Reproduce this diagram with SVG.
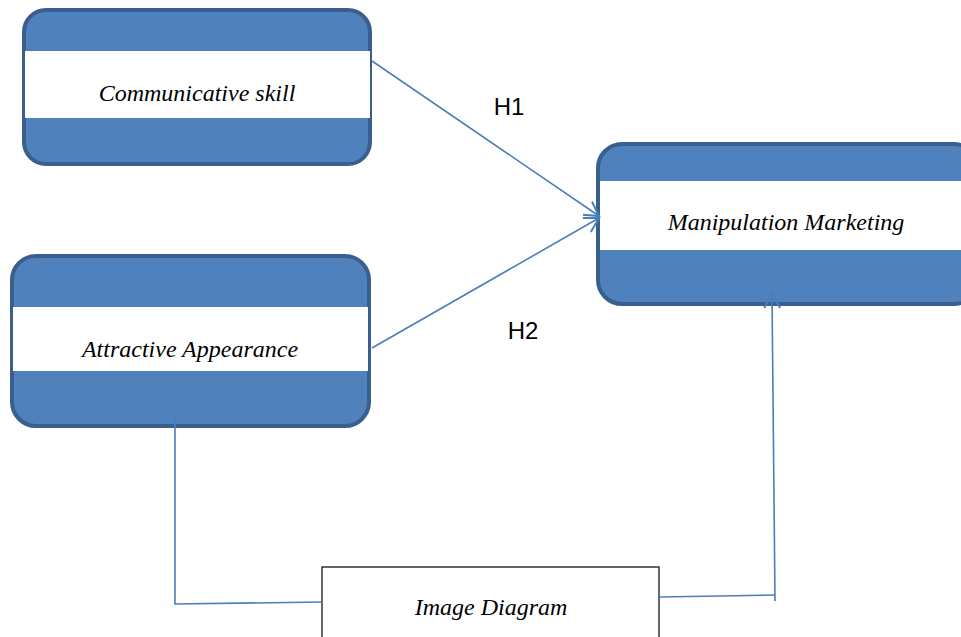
<svg xmlns="http://www.w3.org/2000/svg" width="961" height="637" viewBox="0 0 961 637">
  <style>
    .box { fill: #4F81BD; stroke: #3A5F8E; stroke-width: 4; }
    .band { fill: #FFFFFF; }
    .label { font-family: "Liberation Serif", "Times New Roman", serif; font-style: italic; font-size: 24px; fill: #000; text-anchor: middle; }
    .hyp { font-family: "Liberation Sans", Arial, sans-serif; font-size: 24px; fill: #000; text-anchor: middle; }
    .conn { stroke: #4A7EBB; stroke-width: 1.6; fill: none; }
    .plain { fill: #FFFFFF; stroke: #000; stroke-width: 1.2; }
  </style>
  <defs>
    <marker id="vhead" markerWidth="20" markerHeight="20" refX="17" refY="10" orient="auto" markerUnits="userSpaceOnUse">
      <path d="M3,2 L17,10 L3,18" fill="none" stroke="#4A7EBB" stroke-width="2"/>
    </marker>
  </defs>

  <rect width="961" height="637" fill="#FFFFFF"/>

  <g id="communicative-skill">
    <rect class="box" x="24" y="10" width="346" height="154" rx="22" ry="22"/>
    <rect class="band" x="25" y="51" width="345" height="67"/>
    <text class="label" x="197" y="101">Communicative skill</text>
  </g>

  <g id="attractive-appearance">
    <rect class="box" x="12" y="256" width="357" height="170" rx="24" ry="24"/>
    <rect class="band" x="13" y="307" width="355" height="64"/>
    <text class="label" x="190" y="357">Attractive Appearance</text>
  </g>

  <g id="manipulation-marketing">
    <rect class="box" x="598" y="144" width="380" height="160" rx="24" ry="24"/>
    <rect class="band" x="600" y="181" width="361" height="69"/>
    <text class="label" x="786" y="230">Manipulation Marketing</text>
  </g>

  <g id="image-diagram">
    <rect class="plain" x="322" y="567" width="337" height="80"/>
    <text class="label" x="491" y="615">Image Diagram</text>
  </g>

  <g id="connectors">
    <line class="conn" x1="372" y1="61" x2="599" y2="216" marker-end="url(#vhead)"/>
    <line class="conn" x1="372" y1="348" x2="599" y2="218" marker-end="url(#vhead)"/>
    <polyline class="conn" points="175,418 175,604 322,602"/>
    <polyline class="conn" points="659,597 775,595"/>
    <line class="conn" x1="775" y1="601" x2="772" y2="294" marker-end="url(#vhead)"/>
  </g>

  <g id="hypotheses">
    <text class="hyp" x="509" y="115">H1</text>
    <text class="hyp" x="523" y="339">H2</text>
  </g>
</svg>
